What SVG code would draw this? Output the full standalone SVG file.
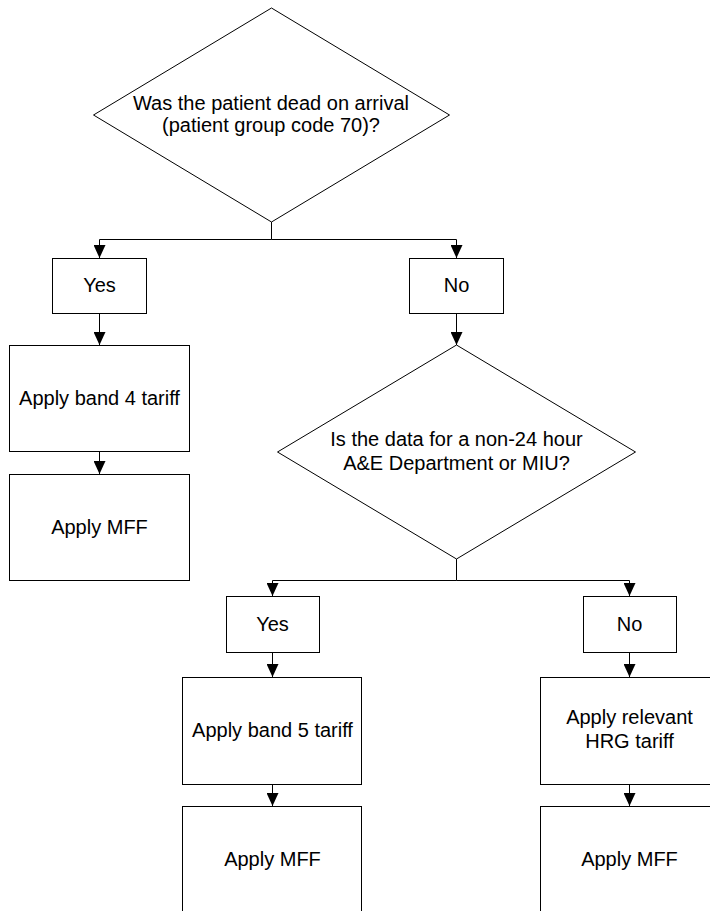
<svg xmlns="http://www.w3.org/2000/svg" width="710" height="911" viewBox="0 0 710 911">
  <defs>
    <style>
      .shape { fill: #ffffff; stroke: #000000; stroke-width: 1; }
      .line { fill: none; stroke: #000000; stroke-width: 1; }
      .label { font-family: "Liberation Sans", Arial, sans-serif; font-size: 20px; fill: #000000; text-anchor: middle; }
    </style>
    <marker id="arrow" markerUnits="userSpaceOnUse" markerWidth="13" markerHeight="12" refX="13" refY="6" orient="auto">
      <path d="M0,0 L13,6 L0,12 Z" fill="#000000"/>
    </marker>
  </defs>

  <rect x="0" y="0" width="710" height="911" fill="#ffffff"/>

  <!-- connectors -->
  <g id="connectors">
    <polyline class="line" points="271.5,222 271.5,239.5 99.5,239.5 99.5,258" marker-end="url(#arrow)"/>
    <polyline class="line" points="271.5,239.5 456.5,239.5 456.5,258" marker-end="url(#arrow)"/>
    <line class="line" x1="99.5" y1="313" x2="99.5" y2="345" marker-end="url(#arrow)"/>
    <line class="line" x1="99.5" y1="452" x2="99.5" y2="474" marker-end="url(#arrow)"/>
    <line class="line" x1="456.5" y1="314" x2="456.5" y2="345" marker-end="url(#arrow)"/>
    <polyline class="line" points="456.5,559 456.5,580.5 272.5,580.5 272.5,596" marker-end="url(#arrow)"/>
    <polyline class="line" points="456.5,580.5 629.5,580.5 629.5,596" marker-end="url(#arrow)"/>
    <line class="line" x1="272.5" y1="652" x2="272.5" y2="677" marker-end="url(#arrow)"/>
    <line class="line" x1="272.5" y1="784" x2="272.5" y2="806" marker-end="url(#arrow)"/>
    <line class="line" x1="629.5" y1="652" x2="629.5" y2="677" marker-end="url(#arrow)"/>
    <line class="line" x1="629.5" y1="784" x2="629.5" y2="806" marker-end="url(#arrow)"/>
  </g>

  <!-- first decision -->
  <g id="dead-on-arrival">
    <polygon class="shape" points="271.5,8 449.5,115 271.5,222 93.5,115"/>
    <text class="label" x="271" y="110">Was the patient dead on arrival</text>
    <text class="label" x="271" y="132">(patient group code 70)?</text>
  </g>

  <g id="yes-1">
    <rect class="shape" x="52.5" y="258.5" width="94" height="55"/>
    <text class="label" x="99.5" y="292">Yes</text>
  </g>

  <g id="no-1">
    <rect class="shape" x="409.5" y="258.5" width="94" height="55"/>
    <text class="label" x="456.5" y="292">No</text>
  </g>

  <g id="band-4">
    <rect class="shape" x="9.5" y="345.5" width="180" height="106"/>
    <text class="label" x="99.5" y="405">Apply band 4 tariff</text>
  </g>

  <g id="mff-1">
    <rect class="shape" x="9.5" y="474.5" width="180" height="106"/>
    <text class="label" x="99.5" y="534">Apply MFF</text>
  </g>

  <!-- second decision -->
  <g id="non-24-hour">
    <polygon class="shape" points="456.5,345 635.5,452 456.5,559 277.5,452"/>
    <text class="label" x="456.5" y="446">Is the data for a non-24 hour</text>
    <text class="label" x="456.5" y="470">A&amp;E Department or MIU?</text>
  </g>

  <g id="yes-2">
    <rect class="shape" x="226.5" y="596.5" width="93" height="56"/>
    <text class="label" x="272.5" y="631">Yes</text>
  </g>

  <g id="no-2">
    <rect class="shape" x="583.5" y="596.5" width="93" height="56"/>
    <text class="label" x="629.5" y="631">No</text>
  </g>

  <g id="band-5">
    <rect class="shape" x="182.5" y="677.5" width="179" height="107"/>
    <text class="label" x="272.5" y="737">Apply band 5 tariff</text>
  </g>

  <g id="mff-2">
    <rect class="shape" x="182.5" y="806.5" width="179" height="107"/>
    <text class="label" x="272.5" y="866">Apply MFF</text>
  </g>

  <g id="hrg">
    <rect class="shape" x="540.5" y="677.5" width="180" height="107"/>
    <text class="label" x="629.5" y="724">Apply relevant</text>
    <text class="label" x="629.5" y="748">HRG tariff</text>
  </g>

  <g id="mff-3">
    <rect class="shape" x="540.5" y="806.5" width="180" height="107"/>
    <text class="label" x="629.5" y="866">Apply MFF</text>
  </g>
</svg>
